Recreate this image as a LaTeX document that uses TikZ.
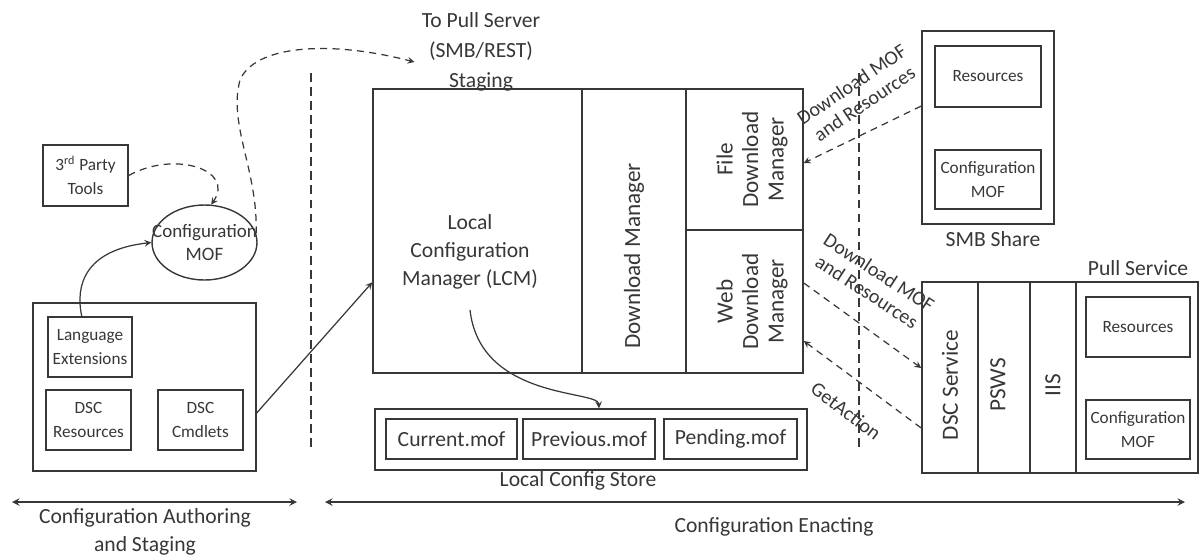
\documentclass[tikz,border=0pt]{standalone}
\usepackage{fontspec}
\setmainfont{Carlito}
\usepackage{tikz}
\definecolor{ink}{RGB}{55,55,55}
\usetikzlibrary{shapes.geometric, arrows}
\tikzstyle{box} = [rectangle, draw=ink, line width=0.8pt, inner sep=0pt, text centered, align=center, text=ink, font=\fontsize{9.8}{13.5}\selectfont]
\tikzstyle{outerbox} = [rectangle, draw=ink, line width=0.9pt, inner sep=0pt]
\tikzstyle{mofbox} = [box, font=\fontsize{12.3}{15}\selectfont]
\tikzstyle{caption} = [text=ink, align=center, inner sep=0pt, font=\fontsize{12.3}{16}\selectfont]
\tikzstyle{vcaption} = [caption, rotate=90, font=\fontsize{13.2}{14.5}\selectfont]
\tikzstyle{flowlabel} = [caption, font=\fontsize{11.4}{13}\selectfont]
\tikzstyle{arrow} = [line width=0.7pt, ->, >=stealth, draw=ink]
\tikzstyle{dasharrow} = [arrow, dash pattern=on 4pt off 3pt]
\tikzstyle{divider} = [draw=ink, line width=0.7pt, dash pattern=on 5pt off 3pt]
\tikzstyle{extent} = [draw=ink, line width=0.9pt, <->, >=stealth]

\begin{document}
\begin{tikzpicture}[x=0.02cm, y=-0.02cm]
    \useasboundingbox (0,0) rectangle (1200,559);

    % authoring side
    \node (tools) [box, minimum width=1.7cm, minimum height=1.22cm] at (85.5,175.5) {3\textsuperscript{rd} Party\\Tools};
    \node (mof) [ellipse, draw=ink, line width=0.8pt, inner sep=0pt, minimum width=2.1cm, minimum height=1.5cm,
        label={[caption, name=moftxt, font=\fontsize{10.8}{13.5}\selectfont]center:Configuration\\MOF}] at (204.5,242.5) {};
    \node (auth) [outerbox, minimum width=4.46cm, minimum height=3.36cm] at (144.5,387) {};
    \node (langext) [box, minimum width=1.68cm, minimum height=1.2cm] at (90,347) {Language\\Extensions};
    \node (dscres) [box, minimum width=1.7cm, minimum height=1.2cm] at (88.5,420) {DSC\\Resources};
    \node (cmdlets) [box, minimum width=1.7cm, minimum height=1.2cm] at (200.5,420) {DSC\\Cmdlets};

    \node (topull) [caption, font=\fontsize{12.3}{17}\selectfont] at (481,52) {To Pull Server\\(SMB/REST)\\Staging};

    % enacting side
    \node (lcm) [outerbox, minimum width=4.18cm, minimum height=5.68cm,
        label={[caption, name=lcmtxt, xshift=-0.15cm, yshift=-0.42cm]center:Local\\Configuration\\Manager (LCM)}] at (477.5,231) {};
    \node (dlm) [outerbox, minimum width=2.08cm, minimum height=5.68cm,
        label={[yshift=-0.5cm, vcaption, name=dlmtxt]center:Download Manager}] at (634,231) {};
    \node (fdm) [outerbox, minimum width=2.34cm, minimum height=2.82cm,
        label={[xshift=0.15cm, vcaption, name=fdmtxt]center:File\\Download\\Manager}] at (744.5,159.5) {};
    \node (wdm) [outerbox, minimum width=2.34cm, minimum height=2.86cm,
        label={[xshift=0.15cm, vcaption, name=wdmtxt]center:Web\\Download\\Manager}] at (744.5,301.5) {};

    \node (store) [outerbox, minimum width=8.64cm, minimum height=1.22cm] at (591,439.5) {};
    \node (current) [mofbox, minimum width=2.62cm, minimum height=0.8cm] at (451.5,439) {Current.mof};
    \node (previous) [mofbox, minimum width=2.64cm, minimum height=0.8cm] at (589,439) {Previous.mof};
    \node (pending) [mofbox, minimum width=2.66cm, minimum height=0.8cm] at (730.5,439) {Pending.mof};
    \node (storecap) [caption] at (578,481) {Local Config Store};

    % smb share
    \node (smb) [outerbox, minimum width=2.64cm, minimum height=3.86cm] at (988,127.5) {};
    \node (smbres) [box, minimum width=2.12cm, minimum height=1.22cm] at (988,76.5) {Resources};
    \node (smbmof) [box, minimum width=2.12cm, minimum height=1.18cm] at (988,179.5) {Configuration\\MOF};
    \node (smbcap) [caption] at (993,239) {SMB Share};

    % pull service
    \node (dsc) [outerbox, minimum width=1.12cm, minimum height=3.82cm,
        label={[yshift=-0.15cm, vcaption, name=dsctxt]center:DSC Service}] at (950,377.5) {};
    \node (psws) [outerbox, minimum width=1.04cm, minimum height=3.82cm,
        label={[xshift=-0.12cm, yshift=-0.15cm, vcaption, name=pswstxt]center:PSWS}] at (1004,377.5) {};
    \node (iis) [outerbox, minimum width=0.92cm, minimum height=3.82cm,
        label={[yshift=-0.15cm, vcaption, name=iistxt]center:IIS}] at (1053,377.5) {};
    \node (pullstore) [outerbox, minimum width=2.44cm, minimum height=3.82cm] at (1137,377.5) {};
    \node (pullres) [box, minimum width=2.08cm, minimum height=1.2cm] at (1138,327) {Resources};
    \node (pullmof) [box, minimum width=2.08cm, minimum height=1.18cm] at (1138,429.5) {Configuration\\MOF};
    \node (pullcap) [caption] at (1138,268) {Pull Service};

    % separators and extents
    \coordinate (sepAtop) at (311,73);
    \coordinate (sepAbot) at (311,452);
    \coordinate (sepBtop) at (859,73);
    \coordinate (sepBbot) at (859,452);
    \draw [divider] (sepAtop) -- (sepAbot);
    \draw [divider] (sepBtop) -- (sepBbot);

    \coordinate (authL) at (12,502);
    \coordinate (authR) at (297,502);
    \coordinate (enactL) at (325,502);
    \coordinate (enactR) at (1185,502);
    \draw [extent] (authL) -- (authR);
    \draw [extent] (enactL) -- (enactR);
    \node (authcap) [caption] at (145,532) {Configuration Authoring\\and Staging};
    \node (enactcap) [caption] at (774,527) {Configuration Enacting};

    % flows
    \draw [dasharrow] (tools.east) .. controls (175,150) and (235,170) .. (mof.80);
    \draw [dasharrow] (mof.10) .. controls (258,170) and (228,125) .. (240,80)
        .. controls (255,45) and (330,40) .. ([xshift=-0.14cm, yshift=-0.2cm]topull.west);
    \draw [arrow] (langext.105) .. controls (75,285) and (85,250) .. (mof.west);
    \draw [arrow] (auth.-13) -- (lcm.206);
    \draw [arrow] ([yshift=-0.4cm]lcmtxt.south) .. controls (480,400) and (598,390) .. ([xshift=0.16cm]store.north);

    \draw [dasharrow] ([yshift=0.43cm]smb.west) -- ([yshift=-0.07cm]fdm.east);
    \draw [dasharrow] ([yshift=0.37cm]wdm.east) -- ([yshift=0.19cm]dsc.west);
    \draw [dasharrow] ([yshift=-1.01cm]dsc.west) -- ([yshift=-0.79cm]wdm.east);

    \node (smbflow) [flowlabel, rotate=34] at (858,94) {Download MOF\\and Resources};
    \node (pullflow) [flowlabel, rotate=-33] at (873,282) {Download MOF\\and Resources};
    \node (getflow) [flowlabel, rotate=-37] at (846,411) {GetAction};
\end{tikzpicture}
\end{document}
